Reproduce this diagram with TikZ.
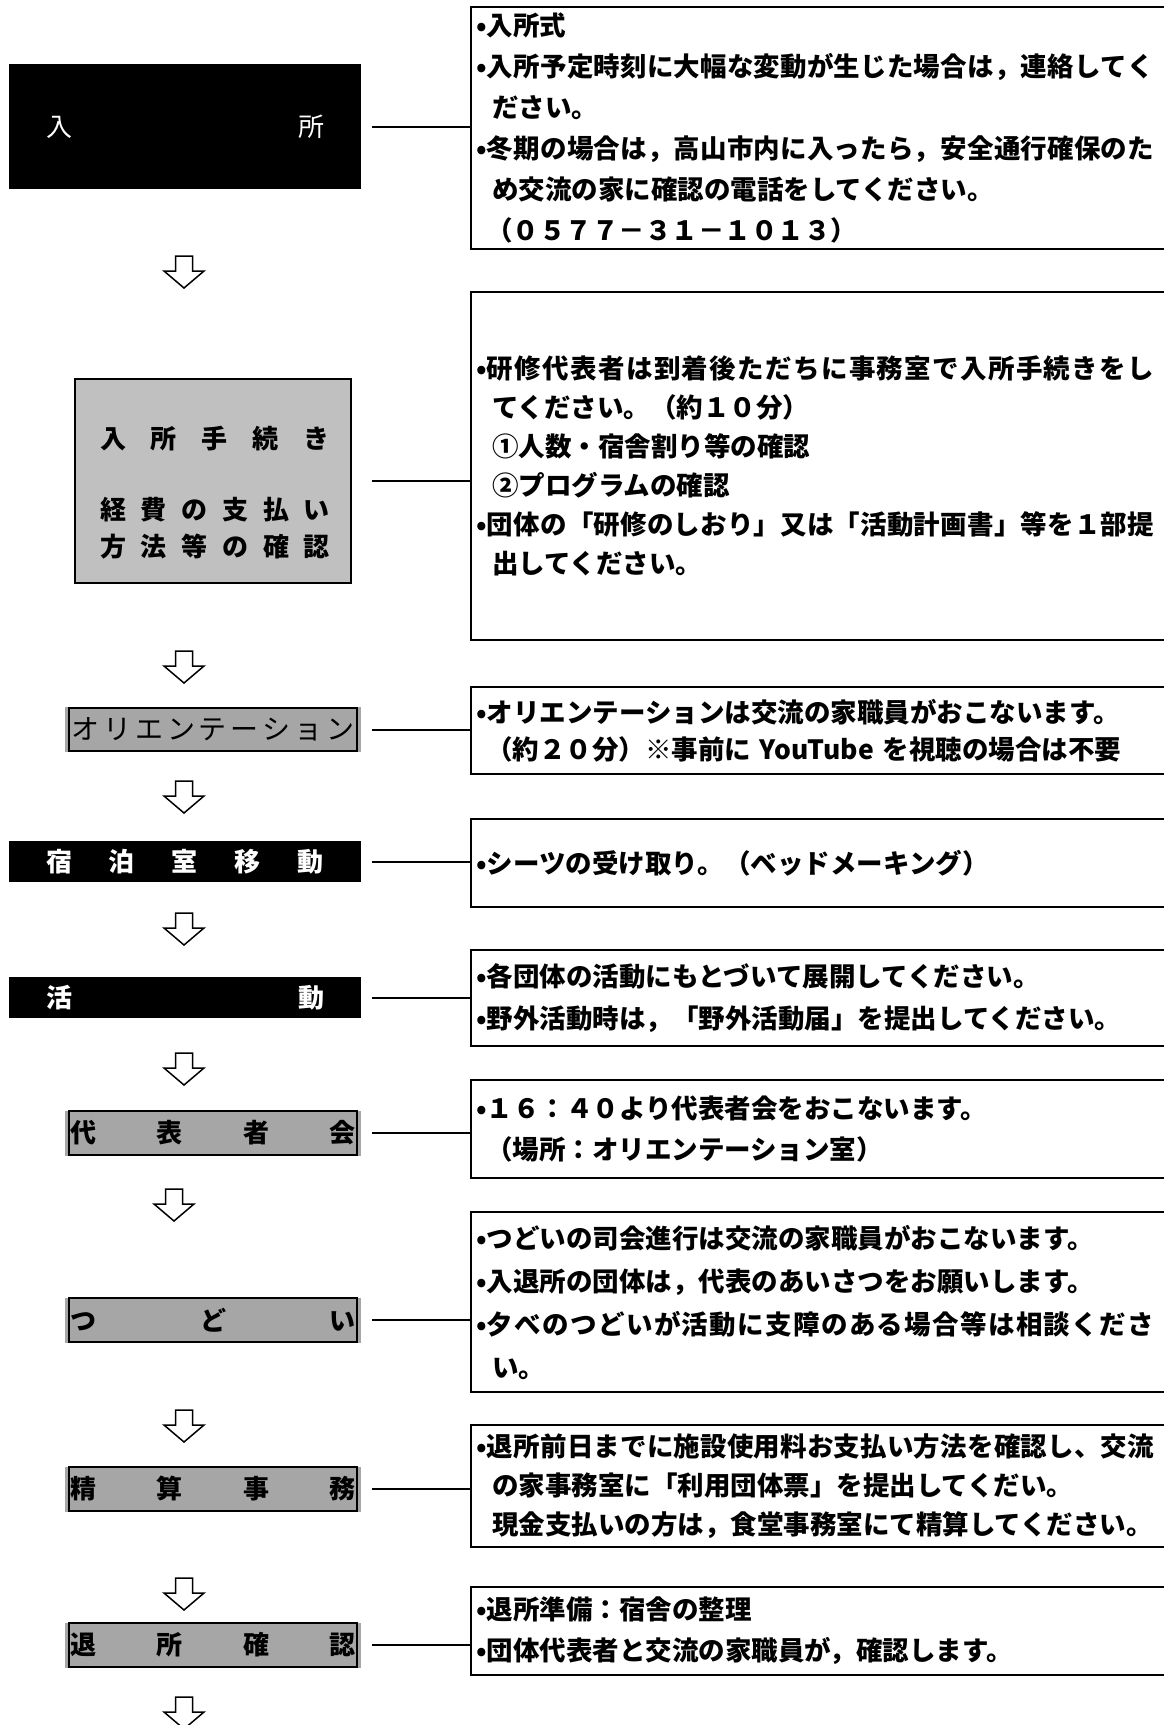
\documentclass[tikz,border=0pt]{standalone}
\usepackage{fontspec}
\setmainfont{Noto Sans CJK JP}
\definecolor{lightgr}{RGB}{192,192,192}
\definecolor{midgr}{RGB}{166,166,166}
\newcommand\mybul{\makebox[11pt][c]{•}}
\newcommand\ind{\hspace*{16pt}}
\newcommand\pind{\hspace*{10pt}}
\def\jst#1{\jstA#1\relax}
\def\jstA#1{#1\jstB}
\def\jstB#1{\ifx\relax#1\else\hspace{0pt plus 1fil}#1\expandafter\jstB\fi}
\newcommand\jl[1]{\makebox[667pt][s]{\jst{#1}}}
\begin{document}
\begin{tikzpicture}[x=1pt,y=-1pt,
  rbox/.style={draw, line width=2pt, anchor=north west, minimum width=720pt,
    text width=710pt, inner xsep=5pt, inner ysep=0pt, align=left,
    font=\bfseries\fontsize{26.5pt}{#1}\selectfont},
  rbox/.default=41pt,
  blackbox/.style={fill=black, text=white, minimum width=352pt, inner sep=0pt},
  graybox/.style={fill=midgr, minimum width=296pt, minimum height=45pt, inner sep=0pt,
    font=\bfseries\fontsize{26pt}{30pt}\selectfont},
  grayframe/.style={draw, line width=2pt},
  conn/.style={draw, line width=2pt},
  ltext/.style={font=\bfseries\fontsize{26pt}{30pt}\selectfont, inner sep=0pt},
  harrow/.pic={\draw[line width=1.5pt, fill=white] (-8.5,0) -- (8.5,0) -- (8.5,15) -- (20,15)
     -- (0,32) -- (-20,15) -- (-8.5,15) -- cycle;}
]
\useasboundingbox (0,0) rectangle (1163,1725);
\coordinate (cs) at (372,0);

% ---------- left column ----------
\node[blackbox, minimum height=125pt, font=\fontsize{26pt}{30pt}\selectfont] (l1) at (185,126.5)
  {\makebox[278pt]{入\hfill 所}};

\node[draw, line width=2pt, fill=lightgr, minimum width=276pt, minimum height=204pt, inner sep=0pt] (l2) at (213,481) {};
\node[ltext] (l2a) at (215,439)
  {\makebox[230pt]{入\hfill 所\hfill 手\hfill 続\hfill き}};
\node[ltext] (l2b) at (215,510)
  {\makebox[230pt]{経\hfill 費\hfill の\hfill 支\hfill 払\hfill い}};
\node[ltext] (l2c) at (215,547)
  {\makebox[230pt]{方\hfill 法\hfill 等\hfill の\hfill 確\hfill 認}};

\node[graybox, font=\fontsize{28pt}{30pt}\selectfont] (l3) at (213,729.5)
  {\makebox[283pt]{オ\hfill リ\hfill エ\hfill ン\hfill テ\hfill ー\hfill シ\hfill ョ\hfill ン}};
\draw[grayframe] ([xshift=4pt,yshift=-1pt]l3.north west) rectangle ([xshift=-4pt,yshift=1pt]l3.south east);

\node[blackbox, minimum height=41pt, font=\bfseries\fontsize{26pt}{30pt}\selectfont] (l4) at (185,861.5)
  {\makebox[278pt]{宿\hfill 泊\hfill 室\hfill 移\hfill 動}};

\node[blackbox, minimum height=41pt, font=\bfseries\fontsize{26pt}{30pt}\selectfont] (l5) at (185,997.5)
  {\makebox[278pt]{活\hfill 動}};

\node[graybox] (l6) at (213,1133)
  {\makebox[285pt]{代\hfill 表\hfill 者\hfill 会}};
\draw[grayframe] ([xshift=4pt,yshift=-1pt]l6.north west) rectangle ([xshift=-4pt,yshift=1pt]l6.south east);

\node[graybox] (l7) at (213,1320)
  {\makebox[285pt]{つ\hfill ど\hfill い}};
\draw[grayframe] ([xshift=4pt,yshift=-1pt]l7.north west) rectangle ([xshift=-4pt,yshift=1pt]l7.south east);

\node[graybox] (l8) at (213,1489)
  {\makebox[285pt]{精\hfill 算\hfill 事\hfill 務}};
\draw[grayframe] ([xshift=4pt,yshift=-1pt]l8.north west) rectangle ([xshift=-4pt,yshift=1pt]l8.south east);

\node[graybox] (l9) at (213,1645)
  {\makebox[285pt]{退\hfill 所\hfill 確\hfill 認}};
\draw[grayframe] ([xshift=4pt,yshift=-1pt]l9.north west) rectangle ([xshift=-4pt,yshift=1pt]l9.south east);

% ---------- arrows ----------
\pic (a1) at (184,256) {harrow};
\pic (a2) at (184,651) {harrow};
\pic (a3) at (184,781) {harrow};
\pic (a4) at (184,913) {harrow};
\pic (a5) at (184,1053) {harrow};
\pic (a6) at (174,1189) {harrow};
\pic (a7) at (184,1410) {harrow};
\pic (a8) at (184,1578) {harrow};
\pic (a9) at (184,1697) {harrow};

% ---------- right column ----------
\node[rbox=41pt, minimum height=242pt] (r1) at (470,6) {%
\mybul 入所式\\
\mybul\jl{入所予定時刻に大幅な変動が生じた場合は，連絡してく}\\
\ind ださい。\\
\mybul\jl{冬期の場合は，高山市内に入ったら，安全通行確保のた}\\
\ind め交流の家に確認の電話をしてください。\\
\pind （０５７７－３１－１０１３）};

\node[rbox=39pt, minimum height=348pt] (r2) at (470,291) {%
\mybul\jl{研修代表者は到着後ただちに事務室で入所手続きをし}\\
\ind てください。（約１０分）\\
\ind ①人数・宿舎割り等の確認\\
\ind ②プログラムの確認\\
\mybul\jl{団体の「研修のしおり」又は「活動計画書」等を１部提}\\
\ind 出してください。};

\node[rbox=37pt, minimum height=87pt] (r3) at (470,686) {%
\mybul オリエンテーションは交流の家職員がおこないます。\\
\pind （約２０分）※事前に YouTube を視聴の場合は不要};

\node[rbox=41pt, minimum height=88pt] (r4) at (470,818) {%
\mybul シーツの受け取り。（ベッドメーキング）};

\node[rbox=42pt, minimum height=96pt] (r5) at (470,949) {%
\mybul 各団体の活動にもとづいて展開してください。\\
\mybul 野外活動時は，「野外活動届」を提出してください。};

\node[rbox=41pt, minimum height=98pt] (r6) at (470,1079) {%
\mybul １６：４０より代表者会をおこないます。\\
\pind （場所：オリエンテーション室）};

\node[rbox=43pt, minimum height=180pt] (r7) at (470,1211) {%
\mybul つどいの司会進行は交流の家職員がおこないます。\\
\mybul 入退所の団体は，代表のあいさつをお願いします。\\
\mybul\jl{夕べのつどいが活動に支障のある場合等は相談くださ}\\
\ind い。};

\node[rbox=39pt, minimum height=122pt] (r8) at (470,1424) {%
\mybul\jl{退所前日までに施設使用料お支払い方法を確認し、交流}\\
\ind の家事務室に「利用団体票」を提出してくだい。\\
\ind 現金支払いの方は，食堂事務室にて精算してください。};

\node[rbox=41pt, minimum height=88pt] (r9) at (470,1586) {%
\mybul 退所準備：宿舎の整理\\
\mybul 団体代表者と交流の家職員が，確認します。};

% ---------- connectors ----------
\draw[conn] (cs |- l1.east) -- (l1.east -| r1.west);
\draw[conn] (cs |- l2.east) -- (l2.east -| r2.west);
\draw[conn] (cs |- l3.east) -- (l3.east -| r3.west);
\draw[conn] (cs |- l4.east) -- (l4.east -| r4.west);
\draw[conn] (cs |- l5.east) -- (l5.east -| r5.west);
\draw[conn] (cs |- l6.east) -- (l6.east -| r6.west);
\draw[conn] (cs |- l7.east) -- (l7.east -| r7.west);
\draw[conn] (cs |- l8.east) -- (l8.east -| r8.west);
\draw[conn] (cs |- l9.east) -- (l9.east -| r9.west);
\end{tikzpicture}
\end{document}
